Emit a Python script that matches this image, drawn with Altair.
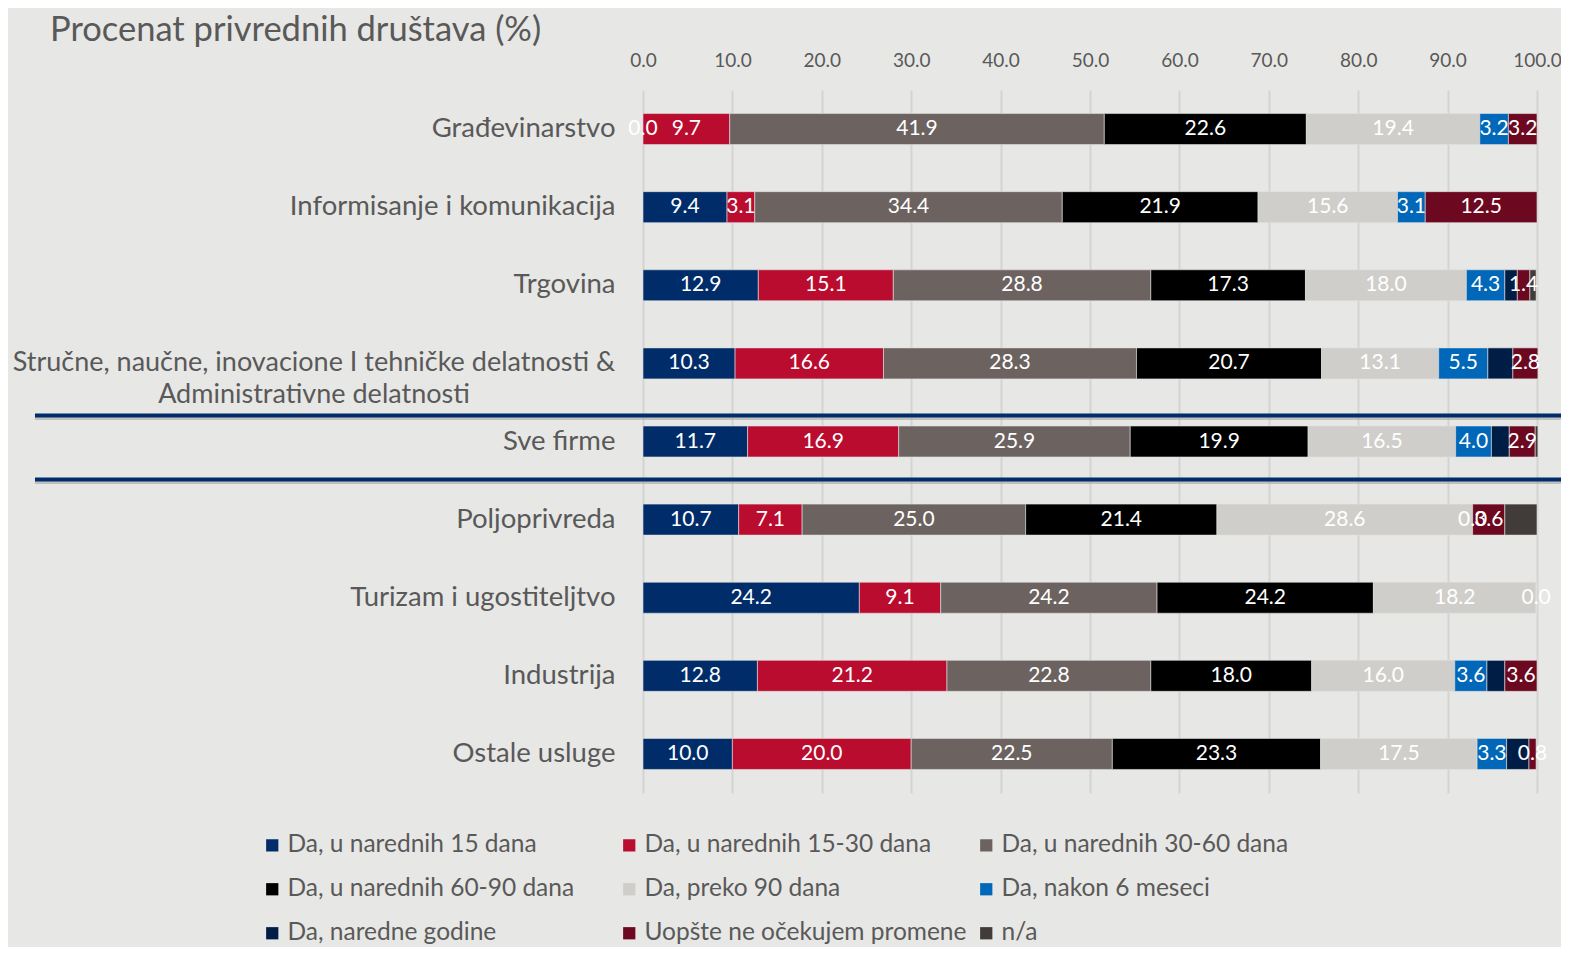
import altair as alt
import pandas as pd

categories = [
    "Građevinarstvo",
    "Informisanje i komunikacija",
    "Trgovina",
    "Stručne, naučne, inovacione I tehničke delatnosti & Administrativne delatnosti",
    "Sve firme",
    "Poljoprivreda",
    "Turizam i ugostiteljtvo",
    "Industrija",
    "Ostale usluge",
]
wrapped_cat = categories[3]
wrapped_lines = ["Stručne, naučne, inovacione I tehničke delatnosti &",
                 "Administrativne delatnosti"]

series = [
    "Da, u narednih 15 dana",
    "Da, u narednih 15-30 dana",
    "Da, u narednih 30-60 dana",
    "Da, u narednih 60-90 dana",
    "Da, preko 90 dana",
    "Da, nakon 6 meseci",
    "Da, naredne godine",
    "Uopšte ne očekujem promene",
    "n/a",
]
colors = ["#002D6A", "#BA0C2F", "#6C6361", "#000000", "#D0CECA",
          "#0067B9", "#001E45", "#6C0820", "#413B3A"]
labelled = [True, True, True, True, True, True, False, True, False]

s_15 = [0.0, 9.4, 12.9, 10.3, 11.7, 10.7, 24.2, 12.8, 10.0]
s_15_30 = [9.7, 3.1, 15.1, 16.6, 16.9, 7.1, 9.1, 21.2, 20.0]
s_30_60 = [41.9, 34.4, 28.8, 28.3, 25.9, 25.0, 24.2, 22.8, 22.5]
s_60_90 = [22.6, 21.9, 17.3, 20.7, 19.9, 21.4, 24.2, 18.0, 23.3]
s_90 = [19.4, 15.6, 18.0, 13.1, 16.5, 28.6, 18.2, 16.0, 17.5]
s_6m = [3.2, 3.1, 4.3, 5.5, 4.0, 0.0, 0.0, 3.6, 3.3]
s_year = [None, None, 1.4, 2.8, 2.0, None, None, 2.0, 2.5]
s_never = [3.2, 12.5, 1.4, 2.8, 2.9, 3.6, None, 3.6, 0.8]
s_na = [None, None, 0.7, None, 0.3, 3.6, None, None, None]
all_series = [s_15, s_15_30, s_30_60, s_60_90, s_90, s_6m, s_year, s_never, s_na]

title_text = "Procenat privrednih društava (%)"
x_ticks = [0, 10, 20, 30, 40, 50, 60, 70, 80, 90, 100]

rows = []
for si, (name, vals) in enumerate(zip(series, all_series)):
    for ci, v in enumerate(vals):
        if v is None:
            continue
        rows.append({"cat": categories[ci], "series": name, "ord": si,
                     "value": v, "show": labelled[si]})
df = pd.DataFrame(rows)

FONT = "Lato"
TXT = "#595959"
W, H = 894, 703
CAT_FS = 27.5

y_enc = alt.Y("cat:N", sort=categories, title=None,
              scale=alt.Scale(paddingInner=0.6, paddingOuter=0.3),
              axis=alt.Axis(domain=False, ticks=False, labelPadding=28,
                            labelFontSize=CAT_FS, labelColor=TXT, labelFont=FONT,
                            labelLimit=0,
                            labelExpr="datum.value == '" + wrapped_cat + "' ? '' : datum.value"))

base = alt.Chart(df).transform_stack(
    stack="value", groupby=["cat"], sort=[alt.SortField("ord", order="ascending")],
    as_=["x0", "x1"]
).transform_calculate(mid="(datum.x0 + datum.x1) / 2")

bars = base.mark_bar(size=31, stroke="#E0E0E0", strokeWidth=0.6).encode(
    x=alt.X("x0:Q", scale=alt.Scale(domain=[0, 100], nice=False), title=None,
            axis=alt.Axis(orient="top", values=x_ticks, format=".1f", domain=False,
                          ticks=False, labelFontSize=19, labelColor=TXT, labelFont=FONT,
                          labelFlush=False, labelPadding=20, grid=True,
                          gridColor="#D4D4D4", gridWidth=2)),
    x2="x1:Q",
    y=y_enc,
    color=alt.Color("series:N", scale=alt.Scale(domain=series, range=colors),
                    legend=alt.Legend(orient="none", legendX=-383, legendY=743,
                                      direction="horizontal",
                                      columns=3, gridAlign="all", title=None,
                                      symbolType="square", symbolSize=150,
                                      symbolStrokeWidth=0, labelFontSize=24.5,
                                      labelFont=FONT, labelColor=TXT, labelLimit=0,
                                      labelOffset=3, rowPadding=19, columnPadding=7)),
)

labels = base.transform_filter("datum.show").mark_text(
    color="white", fontSize=21, font=FONT, baseline="middle", align="center"
).encode(
    x=alt.X("mid:Q"),
    y=alt.Y("cat:N", sort=categories),
    text=alt.Text("value:Q", format=".1f"),
)

wrap_df = pd.DataFrame({"cat": [wrapped_cat], "txt": ["\n".join(wrapped_lines)]})
wrap_label = alt.Chart(wrap_df).mark_text(
    align="center", baseline="middle", fontSize=27, font=FONT, color=TXT,
    lineBreak="\n", lineHeight=32
).encode(
    y=alt.Y("cat:N", sort=categories),
    x=alt.value(-329),
    text="txt:N",
)

sep_df = pd.DataFrame({"cat": ["Sve firme"]})
sep_base = alt.Chart(sep_df).encode(
    y=alt.Y("cat:N", sort=categories),
    x=alt.value(-608), x2=alt.value(W + 40),
)
shadow1 = sep_base.mark_rule(color="#9A9A9A", strokeWidth=3, opacity=0.5, yOffset=-23)
shadow2 = sep_base.mark_rule(color="#9A9A9A", strokeWidth=3, opacity=0.5, yOffset=41)
sep1 = sep_base.mark_rule(color="#002D6A", strokeWidth=4, yOffset=-26)
sep2 = sep_base.mark_rule(color="#002D6A", strokeWidth=4, yOffset=38)

title = alt.Chart(pd.DataFrame({"t": [title_text]})).mark_text(
    align="left", baseline="middle", fontSize=34.5, font=FONT, color=TXT
).encode(text="t:N", x=alt.value(-593), y=alt.value(-59))

chart = alt.layer(bars, labels, wrap_label, shadow1, shadow2, sep1, sep2, title).properties(
    width=W, height=H,
    autosize=alt.AutoSizeParams(type="none"),
    padding={"left": 635, "top": 82, "right": 24, "bottom": 154},
    background="#E7E7E5",
).configure_view(stroke=None)

chart.save("out.html", embed_options={"renderer": "svg", "actions": False})
